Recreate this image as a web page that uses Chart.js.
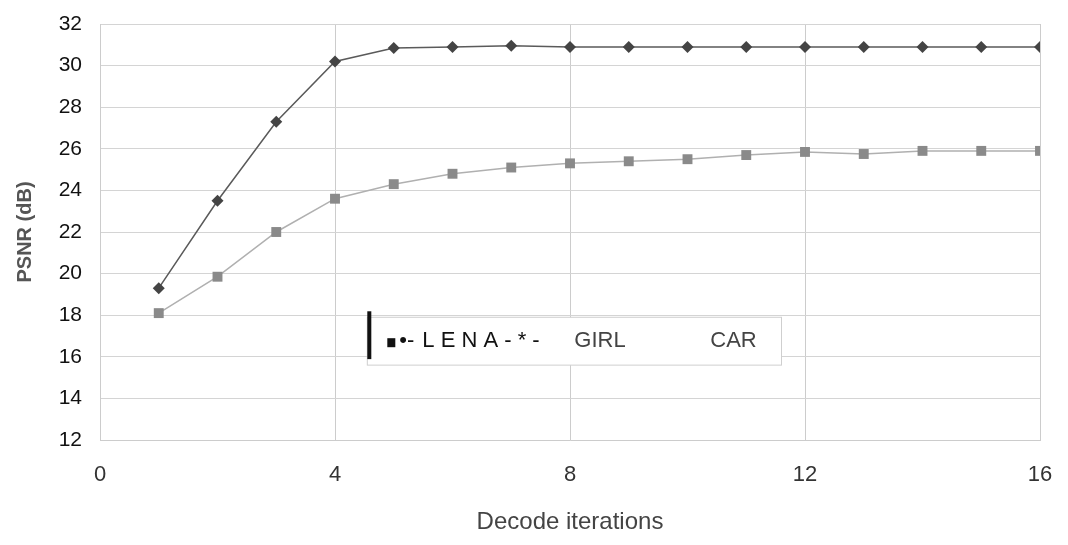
<!DOCTYPE html>
<html>
<head>
<meta charset="utf-8">
<script src="https://cdn.jsdelivr.net/npm/chart.js@4"></script>
<style>
  html, body { margin: 0; padding: 0; background: #fff; }
  #wrap { width: 1068px; height: 545px; }
</style>
</head>
<body>
<div id="wrap"><canvas id="myChart" width="1068" height="545"></canvas></div>
<script>
// Data
var iterations = [1, 2, 3, 4, 5, 6, 7, 8, 9, 10, 11, 12, 13, 14, 15, 16];
var lena = [19.3, 23.5, 27.3, 30.2, 30.85, 30.9, 30.95, 30.9, 30.9, 30.9, 30.9, 30.9, 30.9, 30.9, 30.9, 30.9];
var girl = [18.1, 19.85, 22.0, 23.6, 24.3, 24.8, 25.1, 25.3, 25.4, 25.5, 25.7, 25.85, 25.75, 25.9, 25.9, 25.9];
var car = [null, null, null, null, null, null, null, null, null, null, null, null, null, null, null, null];
var xTicks = [0, 4, 8, 12, 16];
var yTicks = [12, 14, 16, 18, 20, 22, 24, 26, 28, 30, 32];

function toPoints(values) {
    return iterations.map(function (x, i) { return { x: x, y: values[i] }; });
}

// legend box drawn inside the plot area
var boxLegend = {
    id: 'boxLegend',
    afterDraw: function (chart) {
        var ctx = chart.ctx;
        var left = chart.scales.x.getPixelForValue(4.55);
        var right = chart.scales.x.getPixelForValue(11.6);
        var top = chart.scales.y.getPixelForValue(17.9);
        var bottom = chart.scales.y.getPixelForValue(15.6);
        ctx.save();
        ctx.fillStyle = '#fff';
        ctx.fillRect(left, top, right - left, bottom - top);
        ctx.strokeStyle = '#cfcfcf';
        ctx.lineWidth = 1;
        ctx.strokeRect(left, top, right - left, bottom - top);
        ctx.font = '22px "Liberation Sans", Arial, sans-serif';
        ctx.textBaseline = 'middle';
        var mid = (top + bottom) / 2;
        ctx.fillStyle = '#111';
        ctx.fillRect(left, top - 6, 4, bottom - top);
        ctx.fillRect(left + 20, mid - 3, 8, 9);
        ctx.fillText('•-', left + 32, mid);
        ctx.fillText('L E N A - * -', left + 55, mid);
        ctx.fillStyle = '#444';
        ctx.fillText(chart.data.datasets[1].label, left + 207, mid);
        ctx.fillText(chart.data.datasets[2].label, left + 343, mid);
        ctx.restore();
    }
};

var ctx = document.getElementById('myChart').getContext('2d');

var myLineChart = new Chart(ctx, {
    type: 'line',
    data: {
        datasets: [
            {
                label: 'LENA',
                data: toPoints(lena),
                borderColor: '#5a5a5a',
                backgroundColor: '#444',
                borderWidth: 1.5,
                pointStyle: 'rectRot',
                pointRadius: 6,
                pointBorderWidth: 0,
            },
            {
                label: 'GIRL',
                data: toPoints(girl),
                borderColor: '#b0b0b0',
                backgroundColor: '#8a8a8a',
                borderWidth: 1.5,
                pointStyle: 'rect',
                pointRadius: 7,
                pointBorderWidth: 0,
            },
            {
                label: 'CAR',
                data: toPoints(car),
                borderColor: '#888',
                backgroundColor: '#888',
                borderWidth: 1.5,
                pointRadius: 5,
            },
        ],
    },
    options: {
        responsive: false,
        animation: false,
        layout: { autoPadding: false, padding: { top: 24, right: 28, left: 0, bottom: 0 } },
        plugins: {
            legend: { display: false },
            tooltip: { enabled: false },
        },
        scales: {
            x: {
                type: 'linear',
                min: 0,
                max: 16,
                afterBuildTicks: function (scale) {
                    scale.ticks = xTicks.map(function (v) { return { value: v }; });
                },
                afterFit: function (scale) { scale.height = 105; },
                grid: { color: '#cccccc', tickLength: 10, tickColor: 'rgba(0,0,0,0)' },
                border: { color: '#cccccc' },
                ticks: {
                    padding: 12,
                    color: '#333',
                    font: { family: '"Liberation Sans", Arial, sans-serif', size: 22 },
                },
                title: {
                    display: true,
                    text: 'Decode iterations',
                    color: '#444',
                    padding: { top: 0, bottom: 8 },
                    font: { family: '"Liberation Sans", Arial, sans-serif', size: 24 },
                },
            },
            y: {
                min: 12,
                max: 32,
                afterBuildTicks: function (scale) {
                    scale.ticks = yTicks.map(function (v) { return { value: v }; });
                },
                afterFit: function (scale) { scale.width = 100; },
                grid: { color: '#d4d4d4', tickLength: 8, tickColor: 'rgba(0,0,0,0)' },
                border: { color: '#cccccc' },
                ticks: {
                    padding: 10,
                    color: '#111',
                    font: { family: '"Liberation Sans", Arial, sans-serif', size: 21 },
                },
                title: {
                    display: true,
                    text: 'PSNR (dB)',
                    color: '#555',
                    padding: { top: 13, bottom: 0 },
                    font: { family: '"Liberation Sans", Arial, sans-serif', size: 20, weight: 'bold' },
                },
            },
        },
    },
    plugins: [boxLegend],
});
</script>
</body>
</html>
